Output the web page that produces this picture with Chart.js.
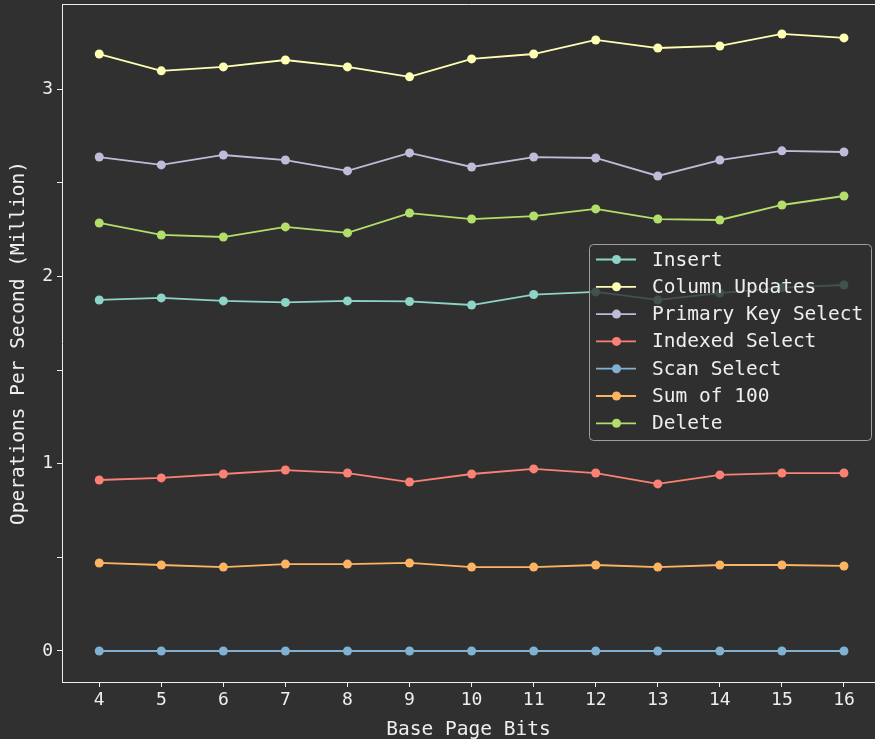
<!DOCTYPE html>
<html><head><meta charset="utf-8">
<script src="https://cdn.jsdelivr.net/npm/chart.js@4"></script>
<style>html,body{margin:0;padding:0;background:#303030;}#wrap{width:875px;height:739px;}</style>
</head><body><div id="wrap"><canvas id="c" width="875" height="739"></canvas></div>
<script>
const pageBits = [4, 5, 6, 7, 8, 9, 10, 11, 12, 13, 14, 15, 16];
const insert = [1.874, 1.885, 1.869, 1.861, 1.869, 1.866, 1.847, 1.903, 1.917, 1.874, 1.911, 1.940, 1.954];
const columnUpdates = [3.187, 3.097, 3.118, 3.155, 3.118, 3.065, 3.161, 3.187, 3.262, 3.219, 3.230, 3.294, 3.273];
const primaryKeySelect = [2.637, 2.595, 2.648, 2.621, 2.563, 2.659, 2.584, 2.637, 2.632, 2.536, 2.621, 2.670, 2.664];
const indexedSelect = [0.913, 0.924, 0.945, 0.966, 0.950, 0.902, 0.945, 0.972, 0.950, 0.892, 0.940, 0.950, 0.950];
const scanSelect = [0, 0, 0, 0, 0, 0, 0, 0, 0, 0, 0, 0, 0];
const sumOf100 = [0.470, 0.459, 0.448, 0.464, 0.464, 0.470, 0.448, 0.448, 0.459, 0.448, 0.459, 0.459, 0.454];
const deleteOps = [2.285, 2.221, 2.210, 2.264, 2.232, 2.338, 2.306, 2.322, 2.360, 2.306, 2.301, 2.381, 2.429];

const seriesLabels = ['Insert', 'Column Updates', 'Primary Key Select', 'Indexed Select', 'Scan Select', 'Sum of 100', 'Delete'];
const seriesValues = [insert, columnUpdates, primaryKeySelect, indexedSelect, scanSelect, sumOf100, deleteOps];
const seriesColors = ['#8dd3c7', '#feffb3', '#bfbbd9', '#fa8174', '#81b1d2', '#fdb462', '#b3de69'];

const BG = '#303030';
const FG = '#eeeeee';
const FONT = "'DejaVu Sans Mono', monospace";

Chart.defaults.font.family = FONT;
Chart.defaults.color = FG;

const bgPlugin = {
  id: 'bg',
  beforeDraw(chart) {
    const ctx = chart.ctx;
    ctx.save();
    ctx.fillStyle = BG;
    ctx.fillRect(0, 0, chart.width, chart.height);
    ctx.restore();
  },
  afterDraw(chart) {
    const ctx = chart.ctx, a = chart.chartArea;
    ctx.save();
    ctx.strokeStyle = FG;
    ctx.lineWidth = 1;
    ctx.beginPath();
    ctx.moveTo(a.left, a.top + 0.5);
    ctx.lineTo(chart.width, a.top + 0.5);
    ctx.stroke();
    ctx.restore();
  },
  afterDatasetsDraw(chart) {
    const ctx = chart.ctx;
    const x0 = 589.5, y0 = 244.5, w = 282, h = 196, r = 4;
    ctx.save();
    ctx.beginPath();
    ctx.roundRect(x0, y0, w, h, r);
    ctx.fillStyle = 'rgba(48,48,48,0.8)';
    ctx.fill();
    ctx.strokeStyle = '#a0a0a0';
    ctx.lineWidth = 1;
    ctx.stroke();
    ctx.font = '19.5px ' + FONT;
    ctx.textBaseline = 'middle';
    chart.data.datasets.forEach((ds, i) => {
      const y = 259.5 + i * 27.3;
      ctx.strokeStyle = ds.borderColor;
      ctx.lineWidth = 1.8;
      ctx.beginPath();
      ctx.moveTo(596, y);
      ctx.lineTo(636, y);
      ctx.stroke();
      ctx.fillStyle = ds.borderColor;
      ctx.beginPath();
      ctx.arc(616.5, y, 4.5, 0, Math.PI * 2);
      ctx.fill();
      ctx.fillStyle = FG;
      ctx.fillText(ds.label, 652, y + 1);
    });
    ctx.restore();
  }
};

new Chart(document.getElementById('c'), {
  type: 'line',
  data: {
    datasets: seriesLabels.map((lab, i) => ({
      label: lab,
      data: pageBits.map((b, j) => ({ x: b, y: seriesValues[i][j] })),
      borderColor: seriesColors[i],
      backgroundColor: seriesColors[i],
      pointBackgroundColor: seriesColors[i],
      pointBorderWidth: 0,
      pointRadius: 4.5,
      borderWidth: 1.8,
      tension: 0,
      fill: false
    }))
  },
  options: {
    responsive: false,
    devicePixelRatio: 1,
    animation: false,
    events: [],
    layout: { autoPadding: false, padding: { top: 4, right: 0, left: 0, bottom: 0 } },
    plugins: { legend: { display: false }, tooltip: { enabled: false } },
    scales: {
      x: {
        type: 'linear',
        min: 3.4,
        max: 16.5,
        afterFit(s) { s.height = 57; s.paddingLeft = 0; s.paddingRight = 0; },
        border: { display: true, color: FG, width: 1 },
        grid: { display: true, drawOnChartArea: false, drawTicks: true, tickLength: 5, color: FG },
        ticks: {
          stepSize: 1,
          includeBounds: false,
          autoSkip: false,
          maxRotation: 0,
          padding: 3,
          color: FG,
          font: { size: 18 },
          callback: v => (Number.isInteger(v) ? String(v) : null)
        },
        title: { display: true, text: 'Base Page Bits', color: FG, font: { size: 19.5 }, padding: { top: 0, bottom: -3 } }
      },
      y: {
        type: 'linear',
        min: -0.1655,
        max: 3.454,
        afterFit(s) { s.width = 62; s.paddingTop = 0; s.paddingBottom = 0; },
        border: { display: true, color: FG, width: 1 },
        grid: { display: true, drawOnChartArea: false, drawTicks: true, tickLength: 5, color: FG },
        ticks: {
          stepSize: 0.5,
          includeBounds: false,
          autoSkip: false,
          padding: 4,
          color: FG,
          font: { size: 18 },
          callback: v => (Number.isInteger(v) ? String(v) : '')
        },
        title: { display: true, text: 'Operations Per Second (Million)', color: FG, font: { size: 19.5 }, padding: { top: 7, bottom: 0 } }
      }
    }
  },
  plugins: [bgPlugin]
});
</script>
</body></html>
